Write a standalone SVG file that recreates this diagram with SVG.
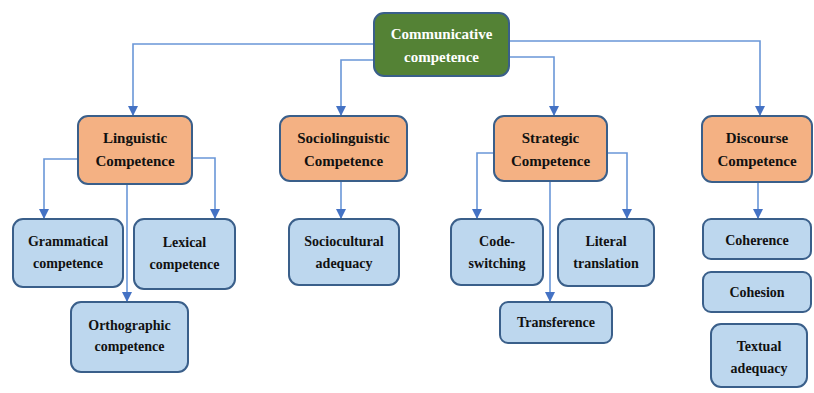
<svg xmlns="http://www.w3.org/2000/svg" width="814" height="393" viewBox="0 0 814 393">
<style>
.root{fill:#548235;stroke:#3a5f8a;stroke-width:2}
.mid{fill:#f4b183;stroke:#3a5f8a;stroke-width:2}
.leaf{fill:#bdd7ee;stroke:#3a5f8a;stroke-width:2}
.lbl{font-family:'Liberation Serif','Times New Roman','DejaVu Serif',serif;font-weight:bold;text-anchor:middle;fill:#111}
.t1{font-size:15px}
.t2{font-size:14px}
.w{fill:#ffffff}
.c{fill:none;stroke:#6a97d8;stroke-width:1.6}
</style>
<defs>
<marker id="arr" markerWidth="11" markerHeight="10" refX="9" refY="5" orient="auto" markerUnits="userSpaceOnUse" viewBox="0 0 11 10">
<path d="M0,0 L10,5 L0,10 Z" fill="#4472c4"/>
</marker>
</defs>
<g id="connectors">
<polyline class="c" points="374,44 133,44 133,115" marker-end="url(#arr)"/>
<polyline class="c" points="374,60 341,60 341,115" marker-end="url(#arr)"/>
<polyline class="c" points="509,57 554,57 554,115" marker-end="url(#arr)"/>
<polyline class="c" points="509,41 760,41 760,115" marker-end="url(#arr)"/>
<polyline class="c" points="78,159 44,159 44,218" marker-end="url(#arr)"/>
<polyline class="c" points="192,158 215,158 215,218" marker-end="url(#arr)"/>
<polyline class="c" points="127,184 127,301" marker-end="url(#arr)"/>
<polyline class="c" points="341,181 341,218" marker-end="url(#arr)"/>
<polyline class="c" points="494,153 477,153 477,218" marker-end="url(#arr)"/>
<polyline class="c" points="607,153 627,153 627,218" marker-end="url(#arr)"/>
<polyline class="c" points="550,181 550,301" marker-end="url(#arr)"/>
<polyline class="c" points="758,182 758,218" marker-end="url(#arr)"/>
</g>
<g id="communicative">
<rect class="root" x="374" y="13" width="135" height="63" rx="10"/>
<text class="lbl t1 w" x="441.5" y="39">Communicative</text>
<text class="lbl t1 w" x="441.5" y="62">competence</text>
</g>
<g id="linguistic">
<rect class="mid" x="78" y="116" width="114" height="68" rx="10"/>
<text class="lbl t1" x="135" y="143">Linguistic</text>
<text class="lbl t1" x="135" y="166">Competence</text>
</g>
<g id="sociolinguistic">
<rect class="mid" x="280" y="116" width="127" height="65" rx="10"/>
<text class="lbl t1" x="343.5" y="143">Sociolinguistic</text>
<text class="lbl t1" x="343.5" y="166">Competence</text>
</g>
<g id="strategic">
<rect class="mid" x="494" y="116" width="113" height="65" rx="10"/>
<text class="lbl t1" x="550.5" y="143">Strategic</text>
<text class="lbl t1" x="550.5" y="166">Competence</text>
</g>
<g id="discourse">
<rect class="mid" x="702" y="116" width="110" height="66" rx="10"/>
<text class="lbl t1" x="757" y="143">Discourse</text>
<text class="lbl t1" x="757" y="166">Competence</text>
</g>
<g id="grammatical">
<rect class="leaf" x="13" y="219" width="110" height="68" rx="10"/>
<text class="lbl t2" x="68" y="246">Grammatical</text>
<text class="lbl t2" x="68" y="268">competence</text>
</g>
<g id="lexical">
<rect class="leaf" x="134" y="219" width="101" height="70" rx="10"/>
<text class="lbl t2" x="184.5" y="247">Lexical</text>
<text class="lbl t2" x="184.5" y="269">competence</text>
</g>
<g id="orthographic">
<rect class="leaf" x="71" y="302" width="117" height="70" rx="10"/>
<text class="lbl t2" x="129.5" y="330">Orthographic</text>
<text class="lbl t2" x="129.5" y="351">competence</text>
</g>
<g id="sociocultural">
<rect class="leaf" x="289" y="219" width="110" height="66" rx="10"/>
<text class="lbl t2" x="344" y="246">Sociocultural</text>
<text class="lbl t2" x="344" y="268">adequacy</text>
</g>
<g id="codeswitching">
<rect class="leaf" x="451" y="219" width="92" height="66" rx="10"/>
<text class="lbl t2" x="497" y="246">Code-</text>
<text class="lbl t2" x="497" y="268">switching</text>
</g>
<g id="literal">
<rect class="leaf" x="558" y="219" width="96" height="67" rx="10"/>
<text class="lbl t2" x="606" y="246">Literal</text>
<text class="lbl t2" x="606" y="268">translation</text>
</g>
<g id="transference">
<rect class="leaf" x="500" y="302" width="112" height="41" rx="8"/>
<text class="lbl t2" x="556" y="327">Transference</text>
</g>
<g id="coherence">
<rect class="leaf" x="703" y="219" width="108" height="40" rx="8"/>
<text class="lbl t2" x="757" y="245">Coherence</text>
</g>
<g id="cohesion">
<rect class="leaf" x="703" y="272" width="108" height="40" rx="8"/>
<text class="lbl t2" x="757" y="297">Cohesion</text>
</g>
<g id="textual">
<rect class="leaf" x="711" y="324" width="96" height="63" rx="10"/>
<text class="lbl t2" x="759" y="351">Textual</text>
<text class="lbl t2" x="759" y="373">adequacy</text>
</g>
</svg>
